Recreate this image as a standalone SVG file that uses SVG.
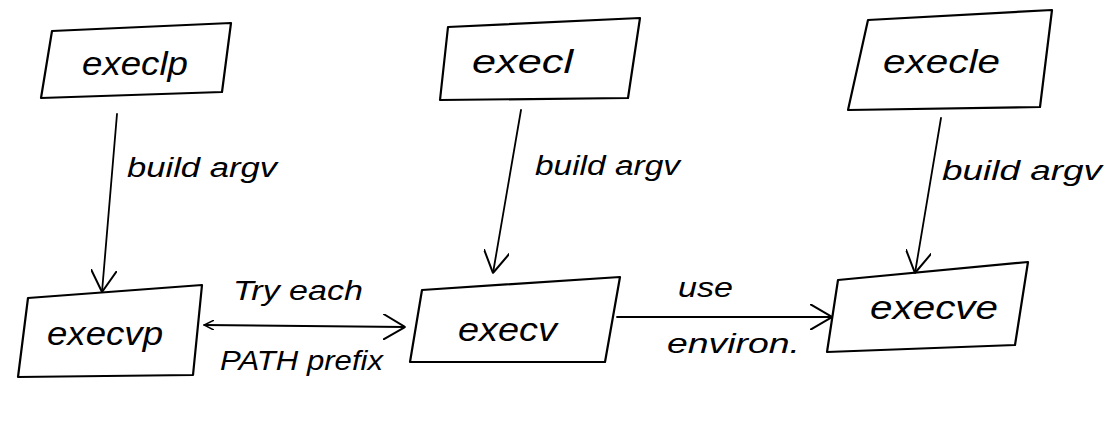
<svg xmlns="http://www.w3.org/2000/svg" width="1110" height="424" viewBox="0 0 1110 424">
  <style>
    .box { fill: #ffffff; stroke: #000000; stroke-width: 2.2; stroke-linejoin: round; }
    .wire { fill: none; stroke: #000000; stroke-width: 1.8; stroke-linecap: round; }
    .name { font-family: "Liberation Sans", Arial, sans-serif; font-style: italic; font-size: 34px; fill: #000000; }
    .note { font-family: "Liberation Sans", Arial, sans-serif; font-style: italic; font-size: 27px; fill: #000000; }
  </style>
  <defs>
    <marker id="vee" markerUnits="userSpaceOnUse" viewBox="0 0 22 26" refX="22" refY="13" markerWidth="22" markerHeight="26" orient="auto">
      <path d="M0,0 L22,13 L0,26" fill="none" stroke="#000000" stroke-width="2"/>
    </marker>
    <marker id="vee-small" markerUnits="userSpaceOnUse" viewBox="0 0 10 10" refX="10" refY="5" markerWidth="10" markerHeight="10" orient="auto-start-reverse">
      <path d="M0,0 L10,5 L0,10" fill="none" stroke="#000000" stroke-width="1.5"/>
    </marker>
  </defs>
  <rect width="1110" height="424" fill="#ffffff"/>

  <!-- top row -->
  <g id="execlp">
    <polygon class="box" points="52,31 231,23 222,92 41,98"/>
    <text class="name" x="82" y="75" textLength="106" lengthAdjust="spacingAndGlyphs">execlp</text>
  </g>
  <g id="execl">
    <polygon class="box" points="448,27 640,18 628,98 440,100"/>
    <text class="name" x="472" y="73" textLength="101" lengthAdjust="spacingAndGlyphs">execl</text>
  </g>
  <g id="execle">
    <polygon class="box" points="868,20 1052,10 1040,107 848,110"/>
    <text class="name" x="883" y="73" textLength="117" lengthAdjust="spacingAndGlyphs">execle</text>
  </g>

  <!-- bottom row -->
  <g id="execvp">
    <polygon class="box" points="28,298 202,285 193,375 18,377"/>
    <text class="name" x="47" y="345" textLength="116" lengthAdjust="spacingAndGlyphs">execvp</text>
  </g>
  <g id="execv">
    <polygon class="box" points="422,290 620,277 605,362 410,362"/>
    <text class="name" x="458" y="341" textLength="99" lengthAdjust="spacingAndGlyphs">execv</text>
  </g>
  <g id="execve">
    <polygon class="box" points="838,280 1028,262 1015,345 827,352"/>
    <text class="name" x="870" y="319" textLength="128" lengthAdjust="spacingAndGlyphs">execve</text>
  </g>

  <!-- connectors -->
  <g id="connectors">
    <path class="wire" d="M117,114 L102,292" marker-end="url(#vee)"/>
    <path class="wire" d="M521,110 L493,273" marker-end="url(#vee)"/>
    <path class="wire" d="M941,118 L915,273" marker-end="url(#vee)"/>
    <path class="wire" d="M204,325 L405,327" marker-start="url(#vee-small)" marker-end="url(#vee)"/>
    <path class="wire" d="M617,317 L832,317" marker-end="url(#vee)"/>

    <text class="note" x="127" y="177" textLength="150" lengthAdjust="spacingAndGlyphs">build argv</text>
    <text class="note" x="535" y="175" textLength="145" lengthAdjust="spacingAndGlyphs">build argv</text>
    <text class="note" x="942" y="180" textLength="160" lengthAdjust="spacingAndGlyphs">build argv</text>
    <text class="note" x="233" y="300" textLength="130" lengthAdjust="spacingAndGlyphs">Try each</text>
    <text class="note" x="220" y="370" textLength="163" lengthAdjust="spacingAndGlyphs">PATH prefix</text>
    <text class="note" x="678" y="297" textLength="55" lengthAdjust="spacingAndGlyphs">use</text>
    <text class="note" x="667" y="353" textLength="133" lengthAdjust="spacingAndGlyphs">environ.</text>
  </g>
</svg>
